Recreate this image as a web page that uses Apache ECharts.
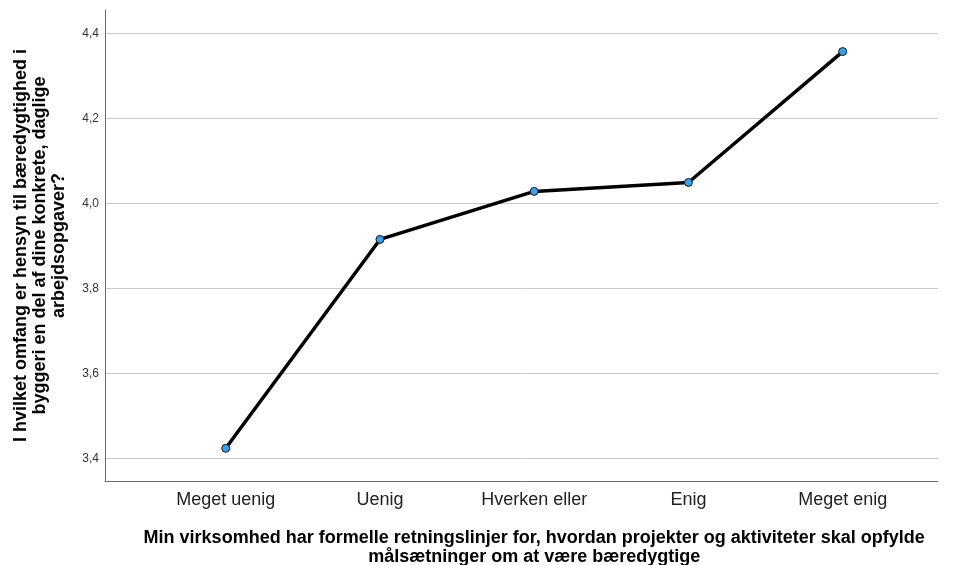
<!DOCTYPE html>
<html>
<head>
<meta charset="utf-8">
<script src="https://cdn.jsdelivr.net/npm/echarts@6/dist/echarts.min.js"></script>
<style>html,body{margin:0;padding:0;background:#fff}#c{width:958px;height:565px}</style>
</head>
<body>
<div id="c"></div>
<script>
const categories = ['Meget uenig', 'Uenig', 'Hverken eller', 'Enig', 'Meget enig'];
const meanValues = [3.4235, 3.915, 4.028, 4.049, 4.357];
const yTicks = [3.4, 3.6, 3.8, 4.0, 4.2, 4.4];
const xTitle = 'Min virksomhed har formelle retningslinjer for, hvordan projekter og aktiviteter skal opfylde\nmålsætninger om at være bæredygtige';
const yTitle = 'I hvilket omfang er hensyn til bæredygtighed i\nbyggeri en del af dine konkrete, daglige\narbejdsopgaver?';

const font = 'Arial, "Liberation Sans", sans-serif';
const chart = echarts.init(document.getElementById('c'), null, {renderer: 'canvas'});
chart.setOption({
  animation: false,
  backgroundColor: '#ffffff',
  grid: [
    {left: 105, right: 20, top: 10, bottom: 84, containLabel: false, outerBoundsMode: 'none'},
    {left: 105, right: 20, top: 33.3, bottom: 106.7, containLabel: false, outerBoundsMode: 'none'},
    {left: 148.6, right: 38.2, top: 33.3, bottom: 106.7, containLabel: false, outerBoundsMode: 'none'}
  ],
  xAxis: [
    {gridIndex: 0, type: 'value', min: 0, max: 1, axisLine: {show: true, onZero: false, lineStyle: {color: '#6e6e6e', width: 1}},
     axisTick: {show: false}, axisLabel: {show: false}, splitLine: {show: false}},
    {gridIndex: 1, type: 'value', min: 0, max: 1, show: false},
    {gridIndex: 2, type: 'category', data: categories, boundaryGap: true, offset: 22.7,
     axisLine: {show: false}, axisTick: {show: false},
     axisLabel: {margin: 10, fontSize: 18, color: '#222', fontFamily: font},
     name: xTitle, nameLocation: 'middle', nameGap: 48,
     nameTextStyle: {fontSize: 18, fontWeight: 'bold', color: '#000', fontFamily: font, lineHeight: 19}}
  ],
  yAxis: [
    {gridIndex: 0, type: 'value', min: 0, max: 1, axisLine: {show: true, lineStyle: {color: '#6e6e6e', width: 1}},
     axisTick: {show: false}, axisLabel: {show: false}, splitLine: {show: false},
     name: yTitle, nameLocation: 'middle', nameGap: 36, nameRotate: 90,
     nameTextStyle: {fontSize: 18, fontWeight: 'bold', color: '#000', fontFamily: font, lineHeight: 19}},
    {gridIndex: 1, type: 'value', min: yTicks[0], max: yTicks[yTicks.length - 1], interval: 0.2,
     axisLine: {show: false}, axisTick: {show: false},
     axisLabel: {margin: 6, fontSize: 12, color: '#333', fontFamily: font,
       formatter: v => v.toFixed(1).replace('.', ',')},
     splitLine: {show: true, lineStyle: {color: '#c8c8c8', width: 1}}},
    {gridIndex: 2, type: 'value', min: yTicks[0], max: yTicks[yTicks.length - 1], show: false}
  ],
  series: [{
    type: 'line', xAxisIndex: 2, yAxisIndex: 2, data: meanValues,
    symbol: 'circle', symbolSize: 8,
    lineStyle: {color: '#000', width: 3.5},
    itemStyle: {color: '#3b9fe8', borderColor: '#1a1a1a', borderWidth: 1},
    z: 5
  }]
});
</script>
</body>
</html>
